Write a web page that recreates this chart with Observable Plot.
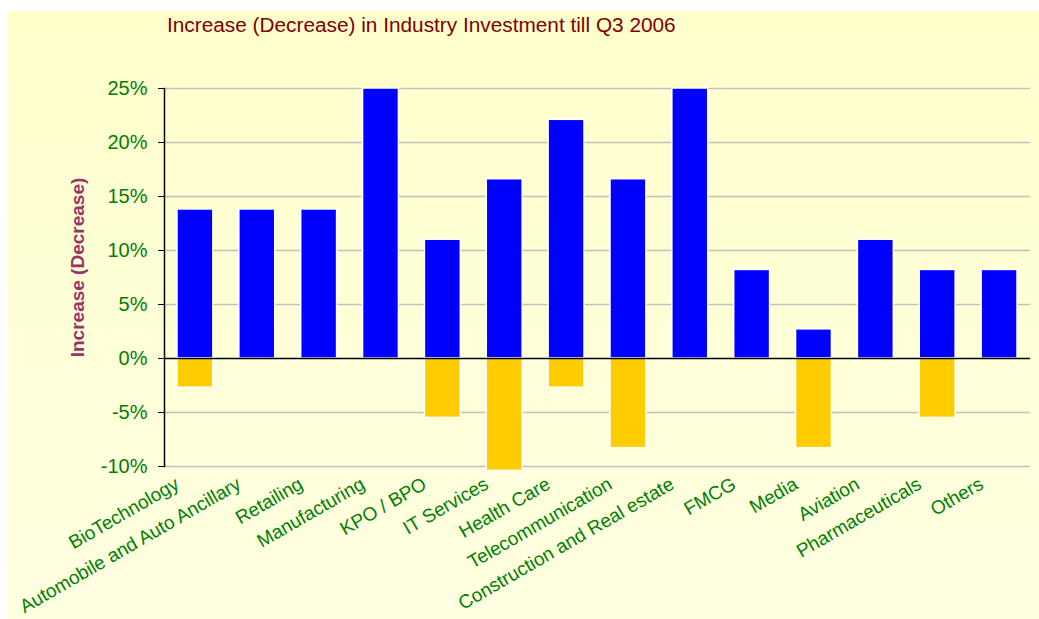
<!DOCTYPE html>
<html>
<head>
<meta charset="utf-8">
<script src="https://cdn.jsdelivr.net/npm/d3@7"></script>
<script src="https://cdn.jsdelivr.net/npm/@observablehq/plot@0.6"></script>
<style>
  html, body { margin: 0; padding: 0; background: #ffffff; }
  #wrap { position: relative; width: 1039px; height: 619px; overflow: hidden; font-family: "Liberation Sans", Arial, sans-serif; }
  #bg { position: absolute; left: 8px; top: 11px; width: 1031px; height: 608px; background: linear-gradient(#ffffcc, #ffffe2); }
  #title { position: absolute; left: 167px; top: 14px; font-size: 20px; color: #800000; white-space: nowrap; transform: scaleX(1.04); transform-origin: left top; }
  #chart { position: absolute; left: 0; top: 0; }
  #chart svg [aria-label="y-axis tick"] { stroke: #000000; }
</style>
</head>
<body>
<div id="wrap">
  <div id="bg"></div>
  <div id="title">Increase (Decrease) in Industry Investment till Q3 2006</div>
  <div id="chart"></div>
</div>
<script>
const categories = ["BioTechnology", "Automobile and Auto Ancillary", "Retailing", "Manufacturing", "KPO / BPO", "IT Services", "Health Care", "Telecommunication", "Construction and Real estate", "FMCG", "Media", "Aviation", "Pharmaceuticals", "Others"];
const increase = [13.8, 13.8, 13.8, 25, 11.0, 16.6, 22.1, 16.6, 25, 8.2, 2.7, 11.0, 8.2, 8.2];
const decrease = [-2.7, 0, 0, 0, -5.5, -10.4, -2.7, -8.3, 0, 0, -8.3, 0, -5.5, 0];
const yTicks = [-10, -5, 0, 5, 10, 15, 20, 25];
const gridTicks = [-10, -5, 5, 10, 15, 20, 25];
const yLabel = "Increase (Decrease)";

const upRows = categories.map((c, i) => ({category: c, value: increase[i]}));
const downRows = categories.map((c, i) => ({category: c, value: decrease[i]})).filter(d => d.value !== 0);

const chart = Plot.plot({
  width: 1039,
  height: 619,
  marginLeft: 164,
  marginRight: 9,
  marginTop: 88,
  marginBottom: 153,
  style: {background: "transparent", fontFamily: "'Liberation Sans', Arial, sans-serif", overflow: "visible"},
  x: {domain: categories, paddingInner: 0.42, paddingOuter: 0.21, round: false, label: null},
  y: {domain: [-10, 25], label: null},
  marks: [
    Plot.ruleY(gridTicks, {stroke: "#c0c0c0", strokeWidth: 1.5}),
    Plot.barY(upRows, {x: "category", y: "value", fill: "#0000ff", stroke: "#ffffff", strokeWidth: 1.5}),
    Plot.barY(downRows, {x: "category", y: "value", fill: "#ffcc00", stroke: "#ffffff", strokeWidth: 1.5}),
    Plot.ruleY([0], {stroke: "#000000", strokeWidth: 1.5}),
    Plot.frame({anchor: "left", stroke: "#000000", strokeWidth: 1.5}),
    Plot.axisY({ticks: yTicks, tickSize: 6, tickPadding: 11, tickFormat: d => d + "%", color: "#008000", fontSize: 20, label: null}),
    Plot.axisX({tickSize: 0, tickRotate: -30, tickPadding: 8, dx: -18, dy: 8, color: "#008000", fontSize: 19, label: null}),
    Plot.text([yLabel], {frameAnchor: "left", textAnchor: "middle", dx: -87, dy: -10, rotate: -90, fill: "#993366", fontSize: 19, fontWeight: "bold"})
  ]
});
document.getElementById("chart").appendChild(chart);
</script>
</body>
</html>
